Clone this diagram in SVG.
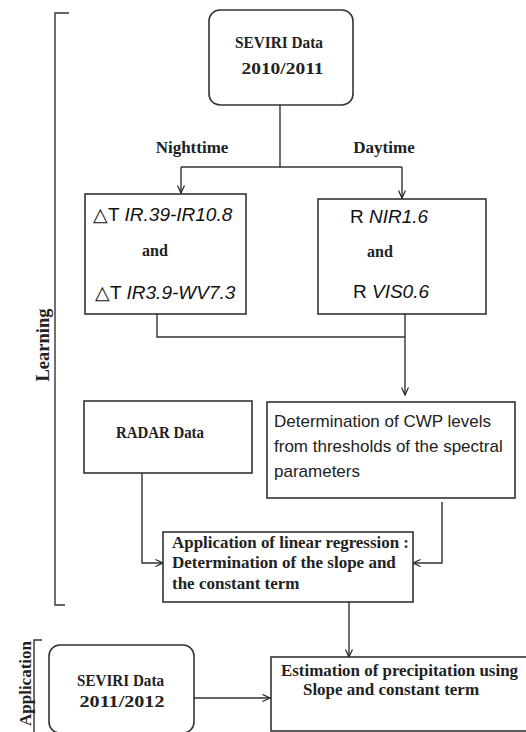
<svg xmlns="http://www.w3.org/2000/svg" width="526" height="732" viewBox="0 0 526 732">
<defs>
<marker id="arr" markerWidth="10" markerHeight="10" refX="8" refY="4" orient="auto" markerUnits="userSpaceOnUse">
<path d="M0.5,0.5 L8,4 L0.5,7.5" fill="none" stroke="#222" stroke-width="1.2"/>
</marker>
<style>
.box{fill:#fff;stroke:#333;stroke-width:1.6}
.ln{fill:none;stroke:#333;stroke-width:1.4}
.ser{font-family:"Liberation Serif","Times New Roman",serif;font-weight:bold;font-size:17px;fill:#222}
.s16{font-size:16px}
.s18{font-size:18.5px}
.sans{font-family:"Liberation Sans",Arial,sans-serif;font-size:19px;fill:#111}
.it{font-style:italic}
.cal{font-family:"Liberation Sans",Arial,sans-serif;font-size:17px;fill:#222}
</style>
</defs>
<rect width="526" height="732" fill="#fff"/>

<g id="brackets">
<path class="ln" d="M69,13 H55 V605 H65"/>
<path class="ln" d="M42,640 H34 V740"/>
<text class="ser s18" transform="translate(49,345) rotate(-90)" text-anchor="middle">Learning</text>
<text class="ser" transform="translate(31,641) rotate(-90)" text-anchor="end">Application</text>
</g>

<g id="connectors">
<path class="ln" d="M280,105 V167"/>
<path class="ln" d="M181,167 H402"/>
<path class="ln" d="M181,167 V193" marker-end="url(#arr)"/>
<path class="ln" d="M402,167 V198" marker-end="url(#arr)"/>
<path class="ln" d="M157,314 V337 H405"/>
<path class="ln" d="M405,314 V395" marker-end="url(#arr)"/>
<path class="ln" d="M142,473 V563 H163" marker-end="url(#arr)"/>
<path class="ln" d="M442,502 V563 H413" marker-end="url(#arr)"/>
<path class="ln" d="M349,602 V657" marker-end="url(#arr)"/>
<path class="ln" d="M194,698 H270" marker-end="url(#arr)"/>
<text class="ser" x="192" y="153" text-anchor="middle">Nighttime</text>
<text class="ser" x="384" y="153" text-anchor="middle">Daytime</text>
</g>

<g id="seviri1">
<rect class="box" x="209" y="10" width="144" height="95" rx="11"/>
<text class="ser" x="279" y="48" text-anchor="middle" textLength="88" lengthAdjust="spacingAndGlyphs">SEVIRI Data</text>
<text class="ser" x="282.5" y="74" text-anchor="middle" textLength="82" lengthAdjust="spacingAndGlyphs">2010/2011</text>
</g>

<g id="night">
<rect class="box" x="85" y="194" width="161" height="120"/>
<text class="sans" x="93" y="221">△T <tspan class="it">IR.39-IR10.8</tspan></text>
<text class="ser s16" x="155" y="256" text-anchor="middle">and</text>
<text class="sans" x="95" y="299">△T <tspan class="it">IR3.9-WV7.3</tspan></text>
</g>

<g id="day">
<rect class="box" x="318" y="199" width="168" height="115"/>
<text class="sans" x="350" y="223">R <tspan class="it">NIR1.6</tspan></text>
<text class="ser s16" x="380" y="257" text-anchor="middle">and</text>
<text class="sans" x="353" y="298">R <tspan class="it">VIS0.6</tspan></text>
</g>

<g id="radar">
<rect class="box" x="84" y="401" width="168" height="72"/>
<text class="ser" x="160" y="438" text-anchor="middle" textLength="88" lengthAdjust="spacingAndGlyphs">RADAR Data</text>
</g>

<g id="cwp">
<rect class="box" x="267" y="402" width="248" height="96"/>
<text class="cal" x="274" y="427">Determination of CWP levels</text>
<text class="cal" x="274" y="452">from thresholds of the spectral</text>
<text class="cal" x="274" y="477">parameters</text>
</g>

<g id="regression">
<rect class="box" x="163" y="532" width="250" height="70"/>
<text class="ser" x="172" y="548" textLength="237" lengthAdjust="spacingAndGlyphs">Application of linear regression :</text>
<text class="ser" x="172" y="568">Determination of the slope and</text>
<text class="ser" x="172" y="589">the constant term</text>
</g>

<g id="seviri2">
<rect class="box" x="49" y="645" width="145" height="88" rx="11"/>
<text class="ser" x="120.5" y="686" text-anchor="middle" textLength="87" lengthAdjust="spacingAndGlyphs">SEVIRI Data</text>
<text class="ser" x="122" y="707" text-anchor="middle" textLength="85" lengthAdjust="spacingAndGlyphs">2011/2012</text>
</g>

<g id="estimation">
<rect class="box" x="271" y="657" width="260" height="74"/>
<text class="ser" x="281" y="676" textLength="237" lengthAdjust="spacingAndGlyphs">Estimation of precipitation using</text>
<text class="ser" x="391" y="695" text-anchor="middle">Slope and constant term</text>
</g>
</svg>
